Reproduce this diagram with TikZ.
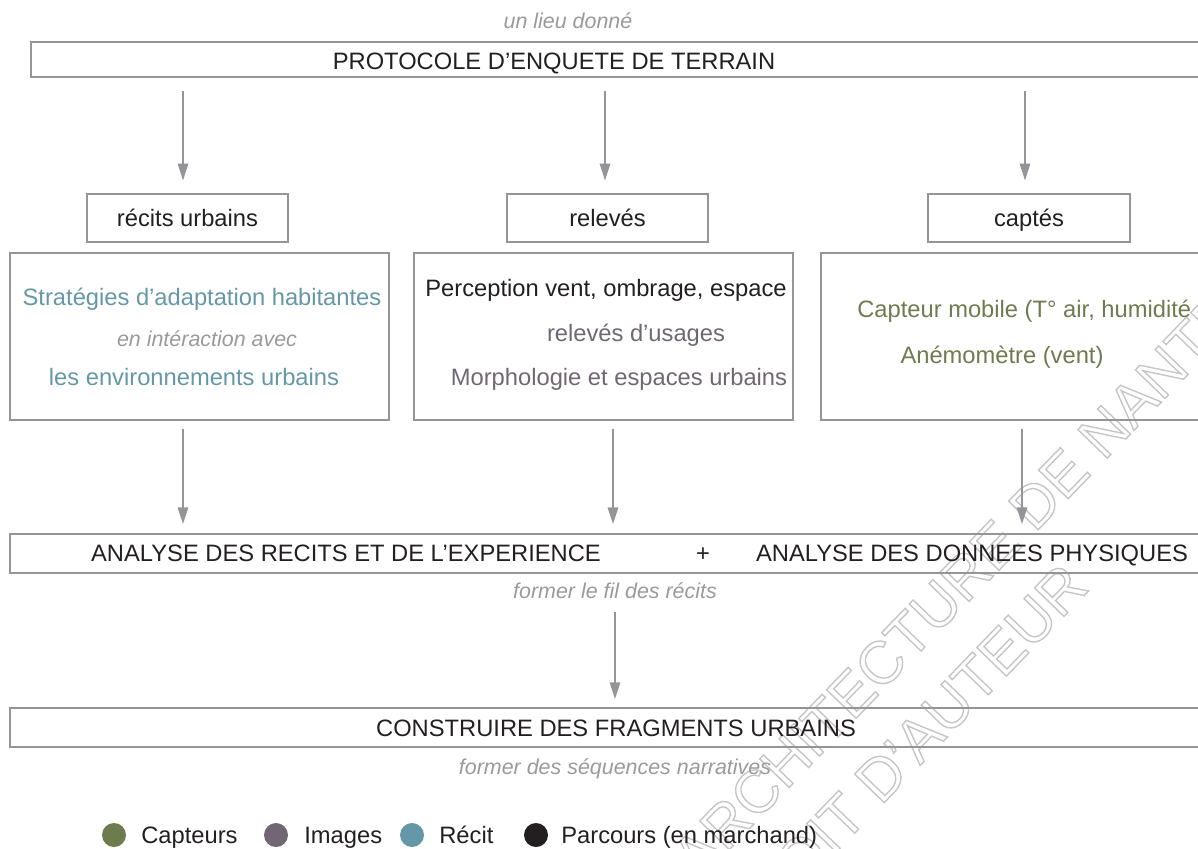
\documentclass[tikz,border=0pt]{standalone}
\usepackage{fontspec}
\setmainfont{Liberation Sans}
\usetikzlibrary{arrows.meta}
\definecolor{lineg}{HTML}{939598}
\definecolor{ink}{HTML}{231F20}
\definecolor{itg}{HTML}{9A9A9A}
\definecolor{teal}{HTML}{6598A7}
\definecolor{mauve}{HTML}{716774}
\definecolor{olive}{HTML}{6E7B4F}
\definecolor{wmgray}{HTML}{C6C6C6}
\newcommand{\outlinetext}[1]{\special{pdf:literal direct 1 Tr 0.8 w}#1\special{pdf:literal direct 0 Tr}}
\begin{document}
\begin{tikzpicture}[x=0.02cm,y=-0.02cm,
  box/.style={draw=lineg, line width=0.7pt, inner sep=0pt},
  wide/.style={draw=lineg, line width=1.1pt, inner sep=0pt, minimum width=1220*0.02cm, minimum height=39*0.02cm},
  txt/.style={inner sep=0pt, text height=9.7pt, text depth=0pt, font=\fontsize{13.5}{16}\selectfont, text=ink},
  ital/.style={inner sep=0pt, text height=8.8pt, text depth=0pt, font=\fontsize{12.2}{14}\selectfont\itshape, text=itg},
  arr/.style={draw=lineg, line width=0.8pt, -{Triangle[width=6pt,length=9.5pt]}},
  dot/.style={circle, inner sep=0pt, minimum size=24*0.02cm},
  wm/.style={inner sep=0pt, text=wmgray, font=\fontsize{34}{40}\selectfont, rotate=46, anchor=base west}]
\useasboundingbox (0,0) rectangle (1198,849);
\clip (0,0) rectangle (1198,849);

% watermark
\node[wm] (wm1) at (698,882) {\outlinetext{ARCHITECTURE DE NANTES}};
\node[wm] (wm2) at (740,952) {\outlinetext{DROIT D'AUTEUR}};

% column coordinates for arrows
\coordinate (c1) at (183,0);
\coordinate (c2) at (605,0);
\coordinate (c3) at (1025,0);
\coordinate (d1) at (183,0);
\coordinate (d2) at (613,0);
\coordinate (d3) at (1022,0);
\coordinate (e1) at (615,0);

% top
\node[ital] (lieu) at (568,21) {un lieu donné};
\node[wide, minimum width=1199*0.02cm, minimum height=35*0.02cm] (top) at (630.5,59.5) {};
\node[txt] (toptxt) at (554,61) {PROTOCOLE D’ENQUETE DE TERRAIN};

% small boxes
\node[box, txt, minimum width=201*0.02cm, minimum height=48*0.02cm] (rb) at (187.5,218) {récits urbains};
\node[box, txt, minimum width=201*0.02cm, minimum height=48*0.02cm] (rel) at (607.5,218) {relevés};
\node[box, txt, minimum width=202*0.02cm, minimum height=48*0.02cm] (capt) at (1029,218) {captés};

% big boxes
\node[box, minimum width=379*0.02cm, minimum height=167*0.02cm] (strat) at (199.5,336.5) {};
\node[box, minimum width=379*0.02cm, minimum height=167*0.02cm] (perc) at (603.5,336.5) {};
\node[box, minimum width=409*0.02cm, minimum height=167*0.02cm] (capb) at (1025.5,336.5) {};

\node[txt, text=teal] (s1) at (202,297) {Stratégies d’adaptation habitantes};
\node[ital] (s2) at (207,339) {en intéraction avec};
\node[txt, text=teal] (s3) at (194,377) {les environnements urbains};

\node[txt] (p1) at (606,288) {Perception vent, ombrage, espace};
\node[txt, text=mauve] (p2) at (636,333) {relevés d’usages};
\node[txt, text=mauve] (p3) at (619,377) {Morphologie et espaces urbains};

\node[txt, text=olive, anchor=west] (k1) at (857,309) {Capteur mobile (T° air, humidité};
\node[txt, text=olive] (k2) at (1002,355) {Anémomètre (vent)};

% analyse
\node[wide] (analyse) at (620,553.5) {};
\node[txt] (a1) at (346,553) {ANALYSE DES RECITS ET DE L’EXPERIENCE};
\node[txt] (aplus) at (703,553) {+};
\node[txt] (a2) at (972,553) {ANALYSE DES DONNEES PHYSIQUES};
\node[ital] (fil) at (615,591) {former le fil des récits};

% construire
\node[wide] (constr) at (620,727.5) {};
\node[txt] (ctxt) at (616,728) {CONSTRUIRE DES FRAGMENTS URBAINS};
\node[ital] (seq) at (615,767) {former des séquences narratives};

% arrows
\draw[arr, shorten <=0.26cm, shorten >=0.26cm] (top.south -| c1) -- (rb.north -| c1);
\draw[arr, shorten <=0.26cm, shorten >=0.26cm] (top.south -| c2) -- (rel.north -| c2);
\draw[arr, shorten <=0.26cm, shorten >=0.26cm] (top.south -| c3) -- (capt.north -| c3);
\draw[arr, shorten <=0.16cm, shorten >=0.18cm] (strat.south -| d1) -- (analyse.north -| d1);
\draw[arr, shorten <=0.16cm, shorten >=0.18cm] (perc.south -| d2) -- (analyse.north -| d2);
\draw[arr, shorten <=0.16cm, shorten >=0.18cm] (capb.south -| d3) -- (analyse.north -| d3);
\draw[arr, shorten <=0.26cm, shorten >=0.16cm] (fil.south -| e1) -- (constr.north -| e1);

% legend
\node[dot, fill=olive] (l1) at (114,835) {};
\node[txt, anchor=west] (l1t) at (141,835) {Capteurs};
\node[dot, fill=mauve] (l2) at (276,835) {};
\node[txt, anchor=west] (l2t) at (304,835) {Images};
\node[dot, fill=teal] (l3) at (412,835) {};
\node[txt, anchor=west] (l3t) at (439,835) {Récit};
\node[dot, fill=ink] (l4) at (536,835) {};
\node[txt, anchor=west] (l4t) at (561,835) {Parcours (en marchand)};
\end{tikzpicture}
\end{document}
